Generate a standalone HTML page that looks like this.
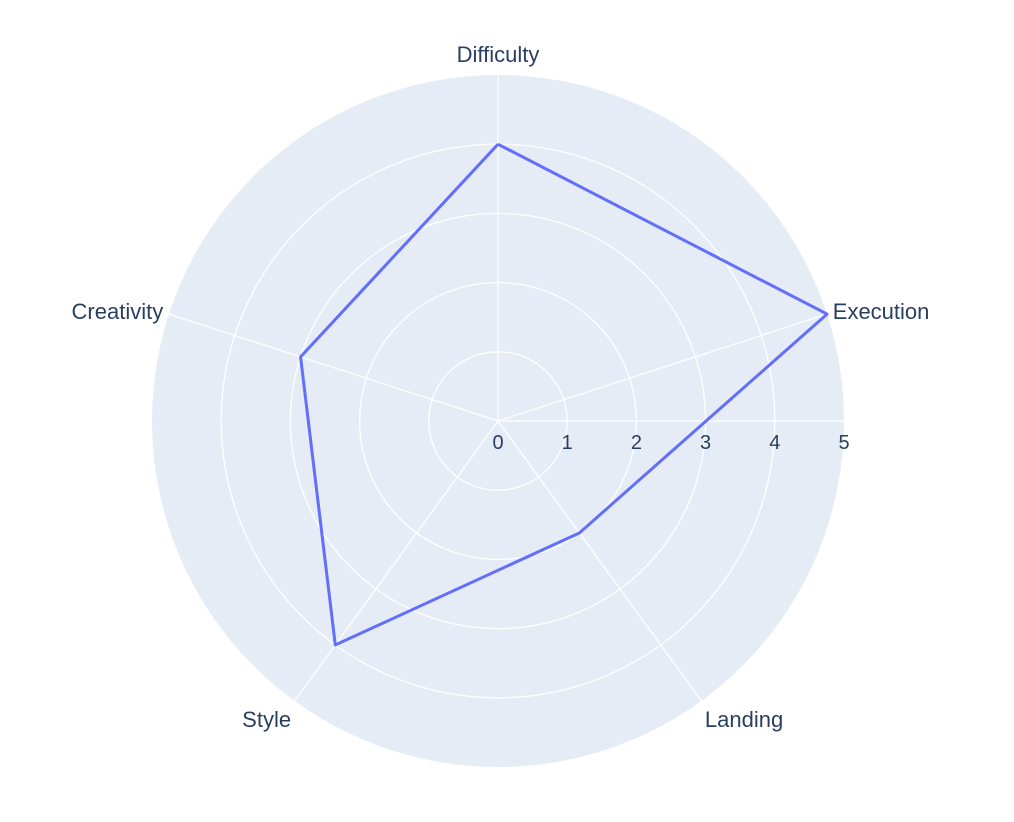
<!DOCTYPE html>
<html><head><meta charset="utf-8"><style>
html,body{margin:0;padding:0;background:#fff;width:1014px;height:822px;overflow:hidden}
text{font-family:"Liberation Sans",sans-serif;fill:#2a3f5f}
</style></head><body>
<svg id="chart" width="1014" height="822" xmlns="http://www.w3.org/2000/svg"></svg>
<script>
const categories = ["Difficulty","Execution","Landing","Style","Creativity"];
const values = [4,5,2,4,3];
const radialTicks = [0,1,2,3,4,5];
const rMax = 5;
const cx = 498, cy = 421, R = 346;
const NS = "http://www.w3.org/2000/svg";
const svg = document.getElementById("chart");
function rs(v){return v / rMax * R;}
function ang(i){return (90 - i * 360 / categories.length) * Math.PI / 180;}
function pt(v,i){return [cx + rs(v) * Math.cos(ang(i)), cy - rs(v) * Math.sin(ang(i))];}
function mk(tag, attrs){const e=document.createElementNS(NS,tag);for(const k in attrs)e.setAttribute(k,attrs[k]);svg.appendChild(e);return e;}

const bg = mk("circle",{cx:cx,cy:cy,r:R,fill:"#e5ecf6"});



radialTicks.forEach(t=>{
  if(t>0 && t<rMax){
    const c = mk("circle",{cx:cx,cy:cy,r:rs(t),fill:"none",stroke:"#fff","stroke-width":1.3});
    
    
  }
});
categories.forEach((c,i)=>{
  const p = pt(rMax,i);
  const l = mk("line",{x1:cx,y1:cy,x2:p[0],y2:p[1],stroke:"#fff","stroke-width":1.3});
  
  
});
const ax = mk("line",{x1:cx,y1:cy,x2:cx+R,y2:cy,stroke:"#fff","stroke-width":1.3});



radialTicks.forEach(t=>{
  const tx = mk("text",{x:cx+rs(t),y:cy+28,"text-anchor":"middle","font-size":20});
  tx.textContent = t;
  
  
});

categories.forEach((c,i)=>{
  const a = ang(i);
  const cos = Math.cos(a), sin = Math.sin(a);
  const x = cx + (R+6)*cos, y = cy - (R+6)*sin;
  let anchor = Math.abs(cos)<0.1 ? "middle" : (cos>0 ? "start" : "end");
  let dy = sin>0.9 ? -7 : (sin<-0.5 ? 21 : 7);
  const tx = mk("text",{x:x,y:y+dy,"text-anchor":anchor,"font-size":22});
  tx.textContent = c;
  
  
});

const pts = values.map((v,i)=>pt(v,i));
pts.push(pts[0]);
const poly = mk("polyline",{points:pts.map(p=>p.join(",")).join(" "),fill:"none",stroke:"#636efa","stroke-width":3,"stroke-linejoin":"round"});


</script>
</body></html>
